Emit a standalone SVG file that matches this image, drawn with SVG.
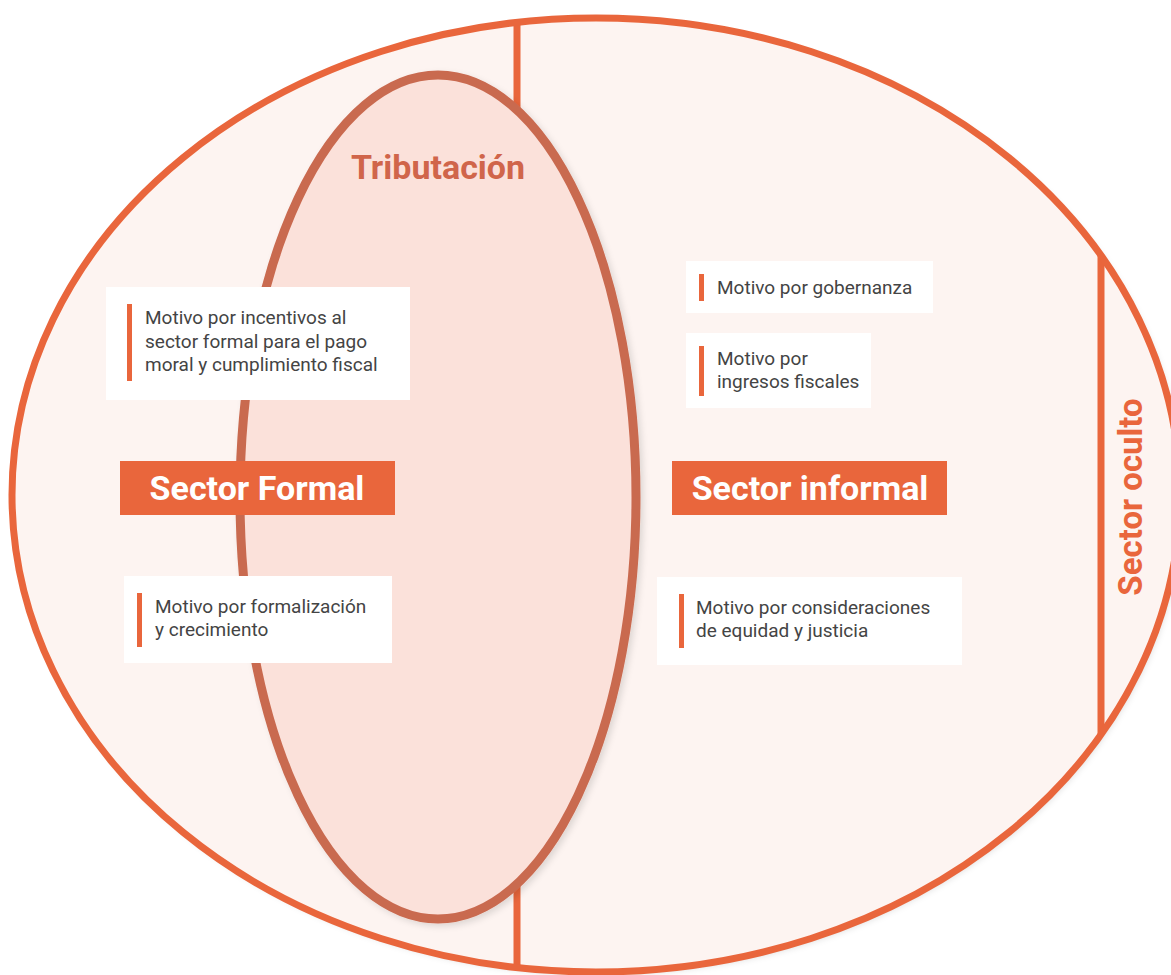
<svg xmlns="http://www.w3.org/2000/svg" width="1171" height="975" viewBox="0 0 1171 975">
  <defs>
    <filter id="soft" x="-10%" y="-10%" width="120%" height="120%">
      <feDropShadow dx="3" dy="3" stdDeviation="3" flood-color="#000" flood-opacity="0.12"/>
    </filter>
    <clipPath id="outerClip">
      <ellipse cx="596" cy="495" rx="584" ry="477"/>
    </clipPath>
  </defs>
  <style>
    .card { fill: #ffffff; }
    .bar { fill: #E9663C; }
    .motive { font-family: Roboto, "Liberation Sans", sans-serif; font-size: 19px; fill: #444444; }
    .sector { fill: #E9663C; }
    .sector-label { font-family: Roboto, "Liberation Sans", sans-serif; font-size: 34px; font-weight: bold; fill: #ffffff; text-anchor: middle; }
    .divider { stroke: #E9663C; stroke-width: 7; fill: none; }
  </style>

  <rect width="1171" height="975" fill="#ffffff"/>

  <!-- Economy as a whole -->
  <g id="economia">
    <ellipse cx="596" cy="495" rx="584" ry="477" fill="#FDF4F1" filter="url(#soft)"/>
  </g>

  <!-- Dividing lines between sectors -->
  <g id="divisores" clip-path="url(#outerClip)">
    <line class="divider" x1="517" y1="0" x2="517" y2="975"/>
    <line class="divider" x1="1101" y1="240" x2="1101" y2="750"/>
  </g>

  <g id="borde">
    <ellipse cx="596" cy="495" rx="584" ry="477" fill="none" stroke="#E9663C" stroke-width="7"/>
  </g>

  <!-- Taxation -->
  <g id="tributacion">
    <ellipse cx="438" cy="497" rx="198" ry="422" fill="#FBE1DA" stroke="#C96A50" stroke-width="9" filter="url(#soft)"/>
    <text x="438" y="179" text-anchor="middle" font-family="Roboto, 'Liberation Sans', sans-serif" font-size="34" font-weight="bold" fill="#D0654A">Tributación</text>
  </g>

  <g id="sector-oculto">
    <text transform="translate(1142 497) rotate(-90)" text-anchor="middle" font-family="Roboto, 'Liberation Sans', sans-serif" font-size="33" font-weight="bold" fill="#E9663C">Sector oculto</text>
  </g>

  <g id="sector-formal">
    <rect class="sector" x="120" y="461" width="275" height="54"/>
    <text class="sector-label" x="257" y="500">Sector Formal</text>
  </g>

  <g id="sector-informal">
    <rect class="sector" x="672" y="461" width="275" height="54"/>
    <text class="sector-label" x="810" y="500">Sector informal</text>
  </g>

  <g id="motivo-incentivos">
    <rect class="card" x="106" y="287" width="304" height="113"/>
    <rect class="bar" x="127" y="304" width="5" height="77"/>
    <text class="motive" x="145" y="324">Motivo por incentivos al</text>
    <text class="motive" x="145" y="348">sector formal para el pago</text>
    <text class="motive" x="145" y="371">moral y cumplimiento fiscal</text>
  </g>

  <g id="motivo-formalizacion">
    <rect class="card" x="124" y="576" width="268" height="87"/>
    <rect class="bar" x="137" y="593" width="5" height="54"/>
    <text class="motive" x="155" y="613">Motivo por formalización</text>
    <text class="motive" x="155" y="636">y crecimiento</text>
  </g>

  <g id="motivo-gobernanza">
    <rect class="card" x="686" y="261" width="247" height="52"/>
    <rect class="bar" x="699" y="274" width="5" height="27"/>
    <text class="motive" x="717" y="294">Motivo por gobernanza</text>
  </g>

  <g id="motivo-ingresos">
    <rect class="card" x="686" y="333" width="185" height="75"/>
    <rect class="bar" x="699" y="346" width="5" height="50"/>
    <text class="motive" x="717" y="365">Motivo por</text>
    <text class="motive" x="717" y="388">ingresos fiscales</text>
  </g>

  <g id="motivo-equidad">
    <rect class="card" x="657" y="577" width="305" height="88"/>
    <rect class="bar" x="679" y="594" width="5" height="54"/>
    <text class="motive" x="696" y="614">Motivo por consideraciones</text>
    <text class="motive" x="696" y="637">de equidad y justicia</text>
  </g>
</svg>
